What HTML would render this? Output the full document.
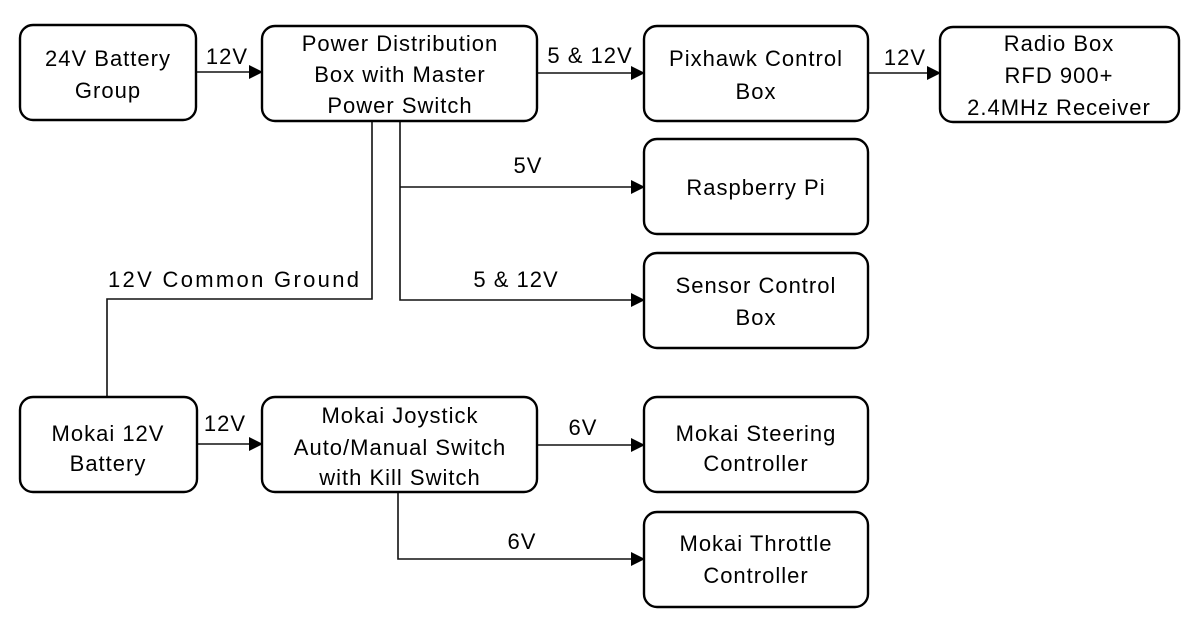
<!DOCTYPE html>
<html><head><meta charset="utf-8"><style>
html,body{margin:0;padding:0;background:#fff;}
svg{display:block;}
text{font-family:"Liberation Sans",sans-serif;font-size:22px;fill:#000;letter-spacing:1px;}
.b{fill:#fff;stroke:#000;stroke-width:2.4;}
.l{fill:none;stroke:#111;stroke-width:1.6;}
</style></head><body>
<svg width="1196" height="633" viewBox="0 0 1196 633" xmlns="http://www.w3.org/2000/svg">
<defs><marker id="a" markerWidth="14" markerHeight="14" refX="13" refY="7" orient="auto" markerUnits="userSpaceOnUse"><path d="M0,0 L14,7 L0,14 Z" fill="#000"/></marker></defs>
<path class="l" d="M196,72 H262" marker-end="url(#a)"/>
<path class="l" d="M537,73 H644" marker-end="url(#a)"/>
<path class="l" d="M868,73 H940" marker-end="url(#a)"/>
<path class="l" d="M400,121 V300 H644" marker-end="url(#a)"/>
<path class="l" d="M400,187 H644" marker-end="url(#a)"/>
<path class="l" d="M372,121 V299 H107 V397"/>
<path class="l" d="M197,444 H262" marker-end="url(#a)"/>
<path class="l" d="M537,445 H644" marker-end="url(#a)"/>
<path class="l" d="M398,492 V559 H644" marker-end="url(#a)"/>
<rect class="b" x="20" y="25" width="176" height="95" rx="13"/>
<rect class="b" x="262" y="26" width="275" height="95" rx="13"/>
<rect class="b" x="644" y="26" width="224" height="95" rx="13"/>
<rect class="b" x="940" y="27" width="239" height="95" rx="13"/>
<rect class="b" x="644" y="139" width="224" height="95" rx="13"/>
<rect class="b" x="644" y="253" width="224" height="95" rx="13"/>
<rect class="b" x="20" y="397" width="177" height="95" rx="13"/>
<rect class="b" x="262" y="397" width="275" height="95" rx="13"/>
<rect class="b" x="644" y="397" width="224" height="95" rx="13"/>
<rect class="b" x="644" y="512" width="224" height="95" rx="13"/>
<g text-anchor="middle">
<text x="108" y="66">24V Battery</text><text x="108" y="98">Group</text>
<text x="400" y="51">Power Distribution</text><text x="400" y="82">Box with Master</text><text x="400" y="113">Power Switch</text>
<text x="756" y="66">Pixhawk Control</text><text x="756" y="99">Box</text>
<text x="1059" y="51">Radio Box</text><text x="1059" y="83">RFD 900+</text><text x="1059" y="115">2.4MHz Receiver</text>
<text x="756" y="195">Raspberry Pi</text>
<text x="756" y="293">Sensor Control</text><text x="756" y="325">Box</text>
<text x="108" y="441">Mokai 12V</text><text x="108" y="471">Battery</text>
<text x="400" y="423">Mokai Joystick</text><text x="400" y="455">Auto/Manual Switch</text><text x="400" y="485">with Kill Switch</text>
<text x="756" y="441">Mokai Steering</text><text x="756" y="471">Controller</text>
<text x="756" y="551">Mokai Throttle</text><text x="756" y="583">Controller</text>
<text x="227" y="64">12V</text>
<text x="590" y="63">5 &amp; 12V</text>
<text x="905" y="65">12V</text>
<text x="528" y="173">5V</text>
<text x="516" y="287">5 &amp; 12V</text>
<text x="225" y="431">12V</text>
<text x="583" y="435">6V</text>
<text x="522" y="549">6V</text>
</g>
<text x="108" y="287" textLength="252" lengthAdjust="spacing">12V Common Ground</text>
</svg>
</body></html>
